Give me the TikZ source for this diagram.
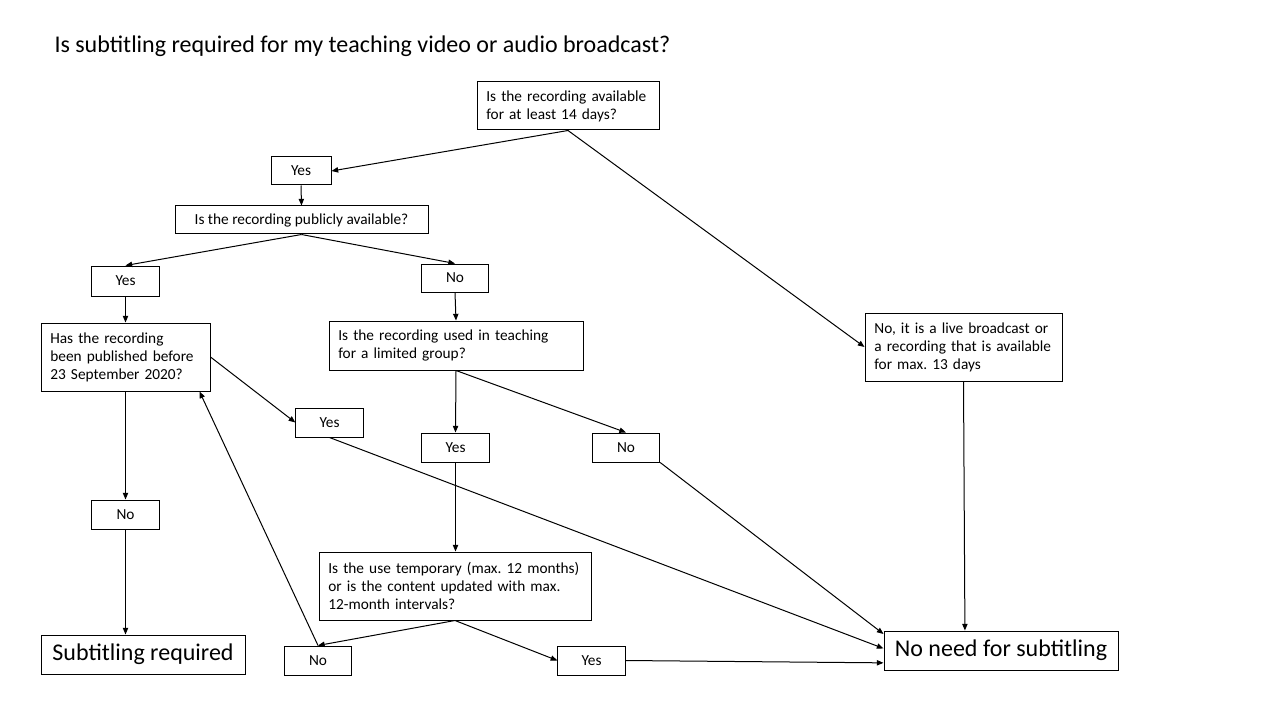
\documentclass[tikz,border=0pt]{standalone}
\usepackage{fontspec}
\setmainfont{Carlito}
\usetikzlibrary{arrows.meta}
\hyphenpenalty=10000
\frenchspacing

\begin{document}
\begin{tikzpicture}[x=0.75pt, y=-0.75pt, line width=0.75pt, >={Triangle[length=5pt,width=4pt]},
  box/.style={draw, inner xsep=7pt, inner ysep=0pt, font=\fontsize{11.5}{13.5}\selectfont},
  qbox/.style={box, align=left, text width=#1},
  ans/.style={box, minimum width=50.5pt, minimum height=21.75pt},
  endbox/.style={box, font=\fontsize{18}{21}\selectfont, minimum height=29.25pt}]
  \useasboundingbox (0,0) rectangle (1280,720);
  % title
  \node[anchor=west, inner sep=0pt, font=\fontsize{18}{21}\selectfont] (title) at (54,46)
    {Is subtitling required for my teaching video or audio broadcast?};
  % questions
  \node[qbox=122.5pt, minimum height=36pt] (q1) at (568,106) {Is the recording available\\for at least 14 days?};
  \node[box, minimum width=189.75pt, minimum height=21pt] (q2) at (301.5,220) {Is the recording publicly available?};
  \node[qbox=112.75pt, minimum height=51pt] (q3) at (125.5,357) {Has the recording\\been published before\\23 September 2020?};
  \node[qbox=176.5pt, minimum height=36.75pt] (q4) at (456,345.5) {Is the recording used in teaching\\for a limited group?};
  \node[qbox=133.75pt, minimum height=51pt] (live) at (963.5,347) {No, it is a live broadcast or\\a recording that is available\\for max. 13 days};
  \node[qbox=190pt, minimum height=51pt] (q5) at (455,586) {Is the use temporary (max. 12 months)\\or is the content updated with max.\\12-month intervals?};
  % answers
  \node[ans, minimum width=45pt, minimum height=21pt] (yes1) at (301,171) {Yes};
  \node[ans, minimum height=22.5pt] (yes2) at (125.5,281) {Yes};
  \node[ans, minimum height=21pt] (no2) at (455,278) {No};
  \node[ans] (yes3) at (329.5,422.5) {Yes};
  \node[ans] (yes4) at (455.5,447.5) {Yes};
  \node[ans] (no4) at (626,447.5) {No};
  \node[ans] (no3) at (125.5,514.5) {No};
  \node[ans] (no5) at (318,660.5) {No};
  \node[ans] (yes5) at (591.5,660.5) {Yes};
  % outcomes
  \node[endbox, minimum width=153pt] (req) at (143,654.5) {Subtitling required};
  \node[endbox, minimum width=175.5pt] (noneed) at (1001,650.5) {No need for subtitling};
  % connectors
  \draw[->] (q1.south) -- (yes1.east);
  \draw[->] (q1.south) -- (live.west);
  \draw[->] (yes1.south) -- (q2.north);
  \draw[->] (q2.south) -- (yes2.north);
  \draw[->] (q2.south) -- (no2.north);
  \draw[->] (yes2.south) -- (q3.north);
  \draw[->] (no2.south) -- (q4.north);
  \draw[->] (q3.east) -- (yes3.west);
  \draw[->] (q3.south) -- (no3.north);
  \draw[->] (no3.south) -- (no3.south |- req.north);
  \draw[->] (q4.south) -- (yes4.north);
  \draw[->] (q4.south) -- (no4.north);
  \draw[->] (yes4.south) -- (yes4.south |- q5.north);
  \draw[->] (q5.south) -- (no5.north);
  \draw[->] (q5.south) -- (yes5.west);
  \draw[->] (no5.north) -- (q3.-25);
  \draw[->] (yes3.south) -- (noneed.179);
  \draw[->] (no4.south east) -- (noneed.172);
  \draw[->] (yes5.east) -- (noneed.186);
  \draw[->] (live.south) -- (noneed.151);
\end{tikzpicture}
\end{document}
